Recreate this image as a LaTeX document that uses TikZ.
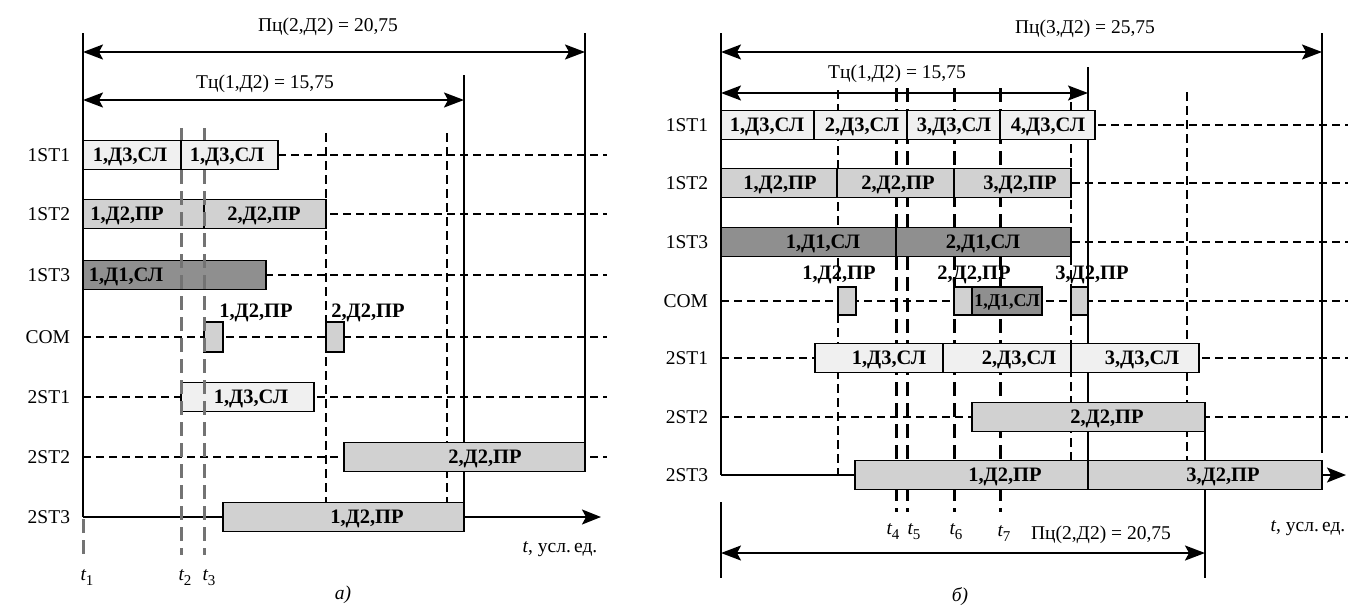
\documentclass[tikz,border=0pt]{standalone}
\usepackage{fontspec}
\setmainfont{Liberation Serif}
\usetikzlibrary{arrows.meta}
\definecolor{lightf}{gray}{0.94}
\definecolor{midf}{gray}{0.82}
\definecolor{darkf}{gray}{0.56}
\definecolor{tgray}{gray}{0.45}
\newcommand\fz{\fontsize{19.5}{22}\selectfont}
\newcommand\fzb{\fontsize{20.5}{23}\selectfont}
\newcommand\fzs{\fontsize{18}{20}\selectfont}
\newcommand\tl[1]{{\itshape t}\raisebox{-5pt}{\fontsize{15}{16}\selectfont #1}}
% #1 name, #2 x1, #3 x2, #4 yc, #5 fill style, #6 text x, #7 text
\newcommand\gbar[7]{%
  \draw[bx,#5] (#2,#4-14.5) rectangle (#3,#4+14.5);
  \node[bt] (#1) at (#6,#4) {#7};}
\tikzset{
  every node/.style={inner sep=0pt, outer sep=0pt},
  lab/.style={font=\fz, text height=12.9pt, text depth=0pt},
  bt/.style={font=\fzb\bfseries, text height=13.5pt, text depth=0pt},
  bx/.style={draw=black, line width=1.4pt},
  fl/.style={fill=lightf}, fm/.style={fill=midf}, fd/.style={fill=darkf},
  rowd/.style={line width=1.4pt, dash pattern=on 8pt off 5pt},
  thind/.style={line width=1.4pt, dash pattern=on 9pt off 5pt},
  tgl/.style={line width=3pt, draw=tgray, dash pattern=on 14pt off 7pt},
  tbl/.style={line width=3pt, draw=black, dash pattern=on 14pt off 7pt},
  solidv/.style={line width=2pt},
  thinv/.style={line width=1.5pt},
  dim/.style={line width=2pt, {Stealth[length=20pt,width=15pt,inset=4pt]}-{Stealth[length=20pt,width=15pt,inset=4pt]}},
  ax/.style={line width=2pt, -{Stealth[length=19pt,width=15pt,inset=4pt]}}
}
\begin{document}
\begin{tikzpicture}[x=1pt,y=-1pt]
\useasboundingbox (0,0) rectangle (1348,605);
% ================= LEFT (a) =================
\coordinate (LA) at (83,52);  \coordinate (LB) at (585,52);
\coordinate (LC) at (83,100); \coordinate (LD) at (464,100);
\coordinate (LO) at (83,517); \coordinate (LE) at (601,517);
\foreach \y in {155,214,275,337,397,457} \draw[rowd] (83,\y) -- (607,\y);
\draw[thind] (326,133) -- (326,502);
\draw[thind] (447,133) -- (447,502);
\draw[solidv] (83,33) -- (83,517);
\draw[solidv] (585,33) -- (585,442);
\draw[solidv] (464,75) -- (464,502);
\draw[dim] (LA) -- (LB);
\draw[dim] (LC) -- (LD);
\draw[ax] (LO) -- (LE);
\gbar{l2a}{83}{204}{214}{fm}{127}{1,Д2,ПР}
\gbar{l2b}{204}{326}{214}{fm}{264}{2,Д2,ПР}
\gbar{l3a}{83}{266}{275}{fd}{126}{1,Д1,СЛ}
\draw[bx,fm] (204,322) rectangle (223,352);
\draw[bx,fm] (326,322) rectangle (344,352);
\gbar{l5a}{181}{314}{397}{fl}{251}{1,Д3,СЛ}
\gbar{l6a}{344}{585}{457}{fm}{485}{2,Д2,ПР}
\gbar{l7a}{223}{464}{517}{fm}{367}{1,Д2,ПР}
\draw[tgl] (181,128) -- (181,555);
\draw[tgl] (204,128) -- (204,555);
\draw[tgl] (83,519) -- (83,555);
\gbar{l1a}{83}{181}{155}{fl}{130}{1,Д3,СЛ}
\gbar{l1b}{181}{278}{155}{fl}{227}{1,Д3,СЛ}
\node[bt] (lc1) at (256,311) {1,Д2,ПР};
\node[bt] (lc2) at (368,311) {2,Д2,ПР};
\node[lab,anchor=east] (lr1) at (70,155) {1ST1};
\node[lab,anchor=east] (lr2) at (70,214) {1ST2};
\node[lab,anchor=east] (lr3) at (70,275) {1ST3};
\node[lab,anchor=east] (lr4) at (70,337) {COM};
\node[lab,anchor=east] (lr5) at (70,397) {2ST1};
\node[lab,anchor=east] (lr6) at (70,457) {2ST2};
\node[lab,anchor=east] (lr7) at (70,517) {2ST3};
\node[lab] (lp) at (328,25) {Пц(2,Д2) = 20,75};
\node[lab] (lt) at (265,82) {Тц(1,Д2) = 15,75};
\node[lab] (lt1) at (87,574) {\tl{1}};
\node[lab] (lt2) at (185,574) {\tl{2}};
\node[lab] (lt3) at (209,574) {\tl{3}};
\node[lab] (lax) at (560,546) {{\itshape t}, усл.\,ед.};
\node[lab,font=\fz\itshape] (lcap) at (343,593) {а)};
% ================= RIGHT (b) =================
\coordinate (RA) at (721,52);  \coordinate (RB) at (1322,52);
\coordinate (RC) at (721,93);  \coordinate (RD) at (1088,93);
\coordinate (RF) at (721,553); \coordinate (RG) at (1205,553);
\coordinate (RO) at (721,475); \coordinate (RE) at (1346,475);
\foreach \y in {125,183,242,301,358,417} \draw[rowd] (721,\y) -- (1348,\y);
\draw[thind] (838,90) -- (838,475);
\draw[thind] (1071,88) -- (1071,461);
\draw[thind] (1187,92) -- (1187,461);
\foreach \x in {896,907,954,1000} \draw[tbl] (\x,88) -- (\x,512);
\draw[solidv] (721,33) -- (721,475);
\draw[solidv] (1322,33) -- (1322,453);
\draw[thinv] (1088,67) -- (1088,489);
\draw[thinv] (721,502) -- (721,578);
\draw[thinv] (1205,431) -- (1205,578);
\draw[dim] (RA) -- (RB);
\draw[dim] (RC) -- (RD);
\draw[dim] (RF) -- (RG);
\draw[ax] (RO) -- (RE);
\gbar{r1a}{721}{814}{125}{fl}{767}{1,Д3,СЛ}
\gbar{r1b}{814}{907}{125}{fl}{862}{2,Д3,СЛ}
\gbar{r1c}{907}{1000}{125}{fl}{954}{3,Д3,СЛ}
\gbar{r1d}{1000}{1095}{125}{fl}{1048}{4,Д3,СЛ}
\gbar{r2a}{721}{837}{183}{fm}{780}{1,Д2,ПР}
\gbar{r2b}{837}{954}{183}{fm}{898}{2,Д2,ПР}
\gbar{r2c}{954}{1071}{183}{fm}{1020}{3,Д2,ПР}
\gbar{r3a}{721}{896}{242}{fd}{823}{1,Д1,СЛ}
\gbar{r3b}{896}{1071}{242}{fd}{983}{2,Д1,СЛ}
\draw[bx,fm] (838,287) rectangle (856,315);
\draw[bx,fm] (954,287) rectangle (972,315);
\draw[bx,fd] (972,287) rectangle (1042,315);
\node[bt,font=\fzs\bfseries,text height=11.9pt] (rc0) at (1007,301) {1,Д1,СЛ};
\draw[bx,fm] (1071,287) rectangle (1088,315);
\gbar{r5a}{815}{943}{358}{fl}{889}{1,Д3,СЛ}
\gbar{r5b}{943}{1071}{358}{fl}{1019}{2,Д3,СЛ}
\gbar{r5c}{1071}{1199}{358}{fl}{1142}{3,Д3,СЛ}
\gbar{r6a}{972}{1205}{417}{fm}{1107}{2,Д2,ПР}
\gbar{r7a}{855}{1088}{475}{fm}{1005}{1,Д2,ПР}
\gbar{r7b}{1088}{1322}{475}{fm}{1223}{3,Д2,ПР}
\node[bt] (rc1) at (839,273) {1,Д2,ПР};
\node[bt] (rc2) at (974,273) {2,Д2,ПР};
\node[bt] (rc3) at (1092,273) {3,Д2,ПР};
\node[lab,anchor=east] (rr1) at (708,125) {1ST1};
\node[lab,anchor=east] (rr2) at (708,183) {1ST2};
\node[lab,anchor=east] (rr3) at (708,242) {1ST3};
\node[lab,anchor=east] (rr4) at (708,301) {COM};
\node[lab,anchor=east] (rr5) at (708,358) {2ST1};
\node[lab,anchor=east] (rr6) at (708,417) {2ST2};
\node[lab,anchor=east] (rr7) at (708,475) {2ST3};
\node[lab] (rp) at (1085,27) {Пц(3,Д2) = 25,75};
\node[lab] (rt) at (897,72) {Тц(1,Д2) = 15,75};
\node[lab] (rp2) at (1101,533) {Пц(2,Д2) = 20,75};
\node[lab] (rt4) at (893,528) {\tl{4}};
\node[lab] (rt5) at (914,528) {\tl{5}};
\node[lab] (rt6) at (956,528) {\tl{6}};
\node[lab] (rt7) at (1004,530) {\tl{7}};
\node[lab] (rax) at (1308,525) {{\itshape t}, усл.\,ед.};
\node[lab,font=\fz\itshape] (rcap) at (960,595) {б)};
\end{tikzpicture}
\end{document}
